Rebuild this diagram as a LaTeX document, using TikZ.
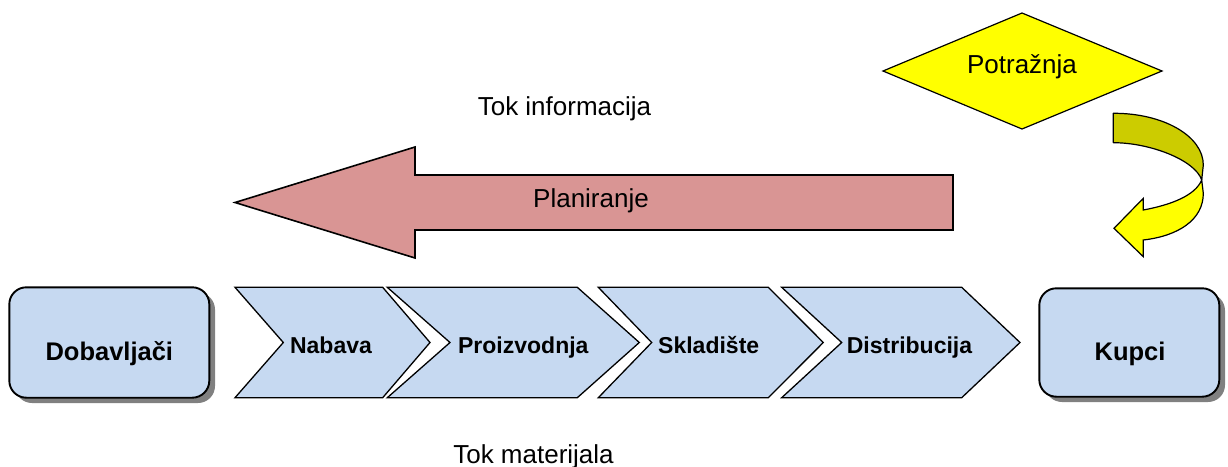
\documentclass[tikz,border=0pt]{standalone}
\usepackage{fontspec}
\setmainfont{Liberation Sans}
\definecolor{boxblue}{HTML}{C6D9F1}
\definecolor{planpink}{HTML}{D99594}
\definecolor{demandyellow}{HTML}{FFFF00}
\definecolor{backolive}{HTML}{CCCC00}
\definecolor{shadowgray}{HTML}{808080}
\begin{document}
\begin{tikzpicture}[x=1pt,y=-1pt,
  partybox/.style={draw=black, fill=boxblue, line width=1.9pt, rounded corners=17pt},
  partyshadow/.style={fill=shadowgray, rounded corners=17pt},
  chevron/.style={draw=black, fill=boxblue, line width=1.3pt, line join=miter},
  boxlabel/.style={font=\fontsize{25.5}{30}\selectfont\bfseries, anchor=base, inner sep=0pt},
  chevlabel/.style={font=\fontsize{23}{27}\selectfont\bfseries, anchor=base, inner sep=0pt},
  plainlabel/.style={font=\fontsize{26}{31}\selectfont, anchor=base, inner sep=0pt}]
\useasboundingbox (0,0) rectangle (1228,466);

% suppliers and customers with drop shadows
\fill[partyshadow] (15,292.5) rectangle (215,403);
\draw[partybox] (9.3,287.3) rectangle (209.3,397.7);
\coordinate (dob) at (109.3,342.5);
\node[boxlabel] (doblabel) at (109.3,360) {Dobavljači};

\fill[partyshadow] (1045,293.5) rectangle (1225,402);
\draw[partybox] (1039.3,288.3) rectangle (1219.3,396.7);
\coordinate (kup) at (1129.3,342.5);
\node[boxlabel] (kuplabel) at (1130,360) {Kupci};

% material flow chevrons
\filldraw[chevron] (235,287.3) -- (382.7,287.3) -- (430,342.5) -- (382.7,397.7) -- (235,397.7) -- (283.3,342.5) -- cycle;
\node[chevlabel] (nabava) at (331,353.3) {Nabava};

\filldraw[chevron] (387.3,287.3) -- (577.3,287.3) -- (639.3,342.5) -- (577.3,397.7) -- (387.3,397.7) -- (450,342.5) -- cycle;
\node[chevlabel] (proizvodnja) at (523.3,353.3) {Proizvodnja};

\filldraw[chevron] (598.3,287.3) -- (768.3,287.3) -- (823.3,342.5) -- (768.3,397.7) -- (598.3,397.7) -- (651.7,342.5) -- cycle;
\node[chevlabel] (skladiste) at (708.7,353.3) {Skladište};

\filldraw[chevron] (781.7,287.3) -- (961.7,287.3) -- (1020,342.5) -- (961.7,397.7) -- (781.7,397.7) -- (841.7,342.5) -- cycle;
\node[chevlabel] (distribucija) at (909.5,353.3) {Distribucija};

% information flow arrow
\filldraw[draw=black, fill=planpink, line width=1.6pt, line join=miter]
  (953,175) -- (415,175) -- (415,147) -- (235,202.5) -- (415,258) -- (415,230) -- (953,230) -- cycle;
\node[plainlabel] (planiranje) at (591,207) {Planiranje};

% demand diamond
\filldraw[draw=black, fill=demandyellow, line width=1.2pt]
  (883,71) -- (1022,13) -- (1162,71) -- (1022,129) -- cycle;
\node[plainlabel] (potraznja) at (1022,73) {Potražnja};

% curved demand arrow: back face, then front face with head
\filldraw[draw=black, fill=backolive, line width=1.2pt, line join=round]
  (1113.3,113.3) .. controls (1163,113) and (1203.3,136) .. (1203.3,165)
  -- (1201.7,180)
  .. controls (1195,160) and (1150,142.7) .. (1113.3,142.7) -- cycle;
\filldraw[draw=black, fill=demandyellow, line width=1.2pt, line join=miter]
  (1201.7,180) -- (1203.3,193.3)
  .. controls (1203.3,220) and (1178,236) .. (1143.3,240)
  -- (1143.3,256.7) -- (1114,228.3) -- (1143.3,198.3) -- (1143.3,210)
  .. controls (1170,205) and (1195,196) .. (1201.7,180) -- cycle;

% flow captions
\node[plainlabel] (tokinfo) at (564.5,115) {Tok informacija};
\node[plainlabel] (tokmat) at (533.5,463) {Tok materijala};
\end{tikzpicture}
\end{document}
